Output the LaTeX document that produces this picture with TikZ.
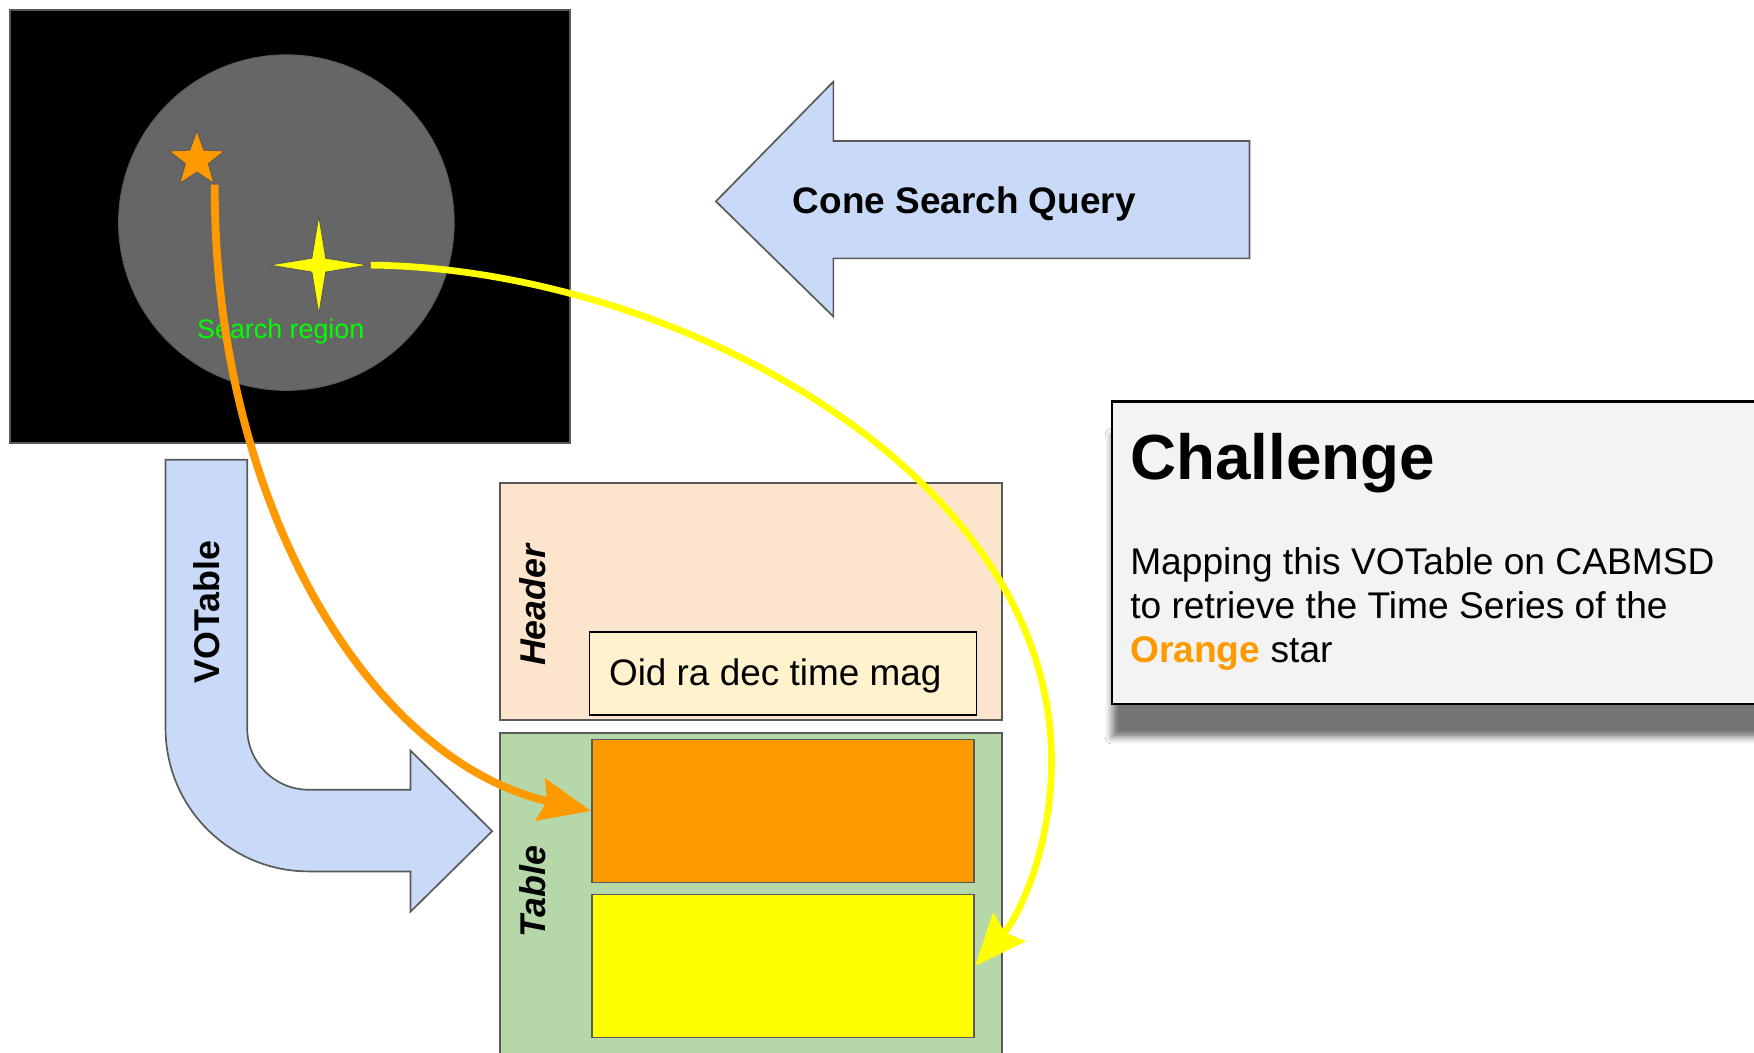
\documentclass[tikz,border=0pt]{standalone}
\usepackage{fontspec}
\setmainfont{Liberation Sans}
\usepackage{xcolor}
\usetikzlibrary{arrows.meta, positioning, shapes.geometric, shadows.blur}
\definecolor{edgegray}{HTML}{595959}
\definecolor{regiongray}{HTML}{666666}
\definecolor{regiongreen}{HTML}{00FF00}
\definecolor{votblue}{HTML}{C9DAF8}
\definecolor{hdrorange}{HTML}{FCE5CD}
\definecolor{fieldyellow}{HTML}{FFF2CC}
\definecolor{tblgreen}{HTML}{B6D7A8}
\definecolor{starorange}{HTML}{FF9900}
\definecolor{staryellow}{HTML}{FFFF00}
\definecolor{boxgray}{HTML}{F3F3F3}
\tikzset{
    box/.style={draw=edgegray, line width=0.75pt, inner sep=0pt}, % plain framed rectangle
    rowbox/.style={box, minimum width=171pt, minimum height=64pt}, % one row of the table
    bigarrow/.style={draw=edgegray, fill=votblue, line width=0.75pt}, % the two block arrows
    sidelabel/.style={rotate=90, font=\fontsize{16}{18}\selectfont\bfseries\itshape},
    link/.style={line width=#1, -{Stealth[length=23pt, width=19pt, inset=3pt]}}, % star -> row
}

\begin{document}
\begin{tikzpicture}[x=0.5pt, y=-0.5pt]
    \useasboundingbox (0,0) rectangle (1568,941);
    \clip (0,0) rectangle (1568,941);
    \fill[white] (0,0) rectangle (1568,941);

    % sky with the search region
    \node[box, fill=black, minimum width=250.5pt, minimum height=193.5pt, anchor=north west] (sky) at (8,8) {};
    \node[draw=edgegray, fill=regiongray, circle, minimum size=150pt, inner sep=0pt] (region) at (256,199) {};
    \node[text=regiongreen, font=\fontsize{12}{14}\selectfont] (regionlabel) at (251,296) {Search region};
    \node[star, star points=5, star point ratio=2.4, fill=starorange, draw=edgegray, minimum size=26pt, inner sep=0pt] (ostar) at (176,143) {};
    \node[star, star points=4, star point ratio=5, fill=staryellow, draw=edgegray, minimum size=44pt, inner sep=0pt] (ystar) at (285,237) {};

    % query arrow
    \draw[bigarrow] (640,180) -- (745,73) -- (745,126) -- (1117,126) -- (1117,231) -- (745,231) -- (745,283) -- cycle;
    \node[font=\fontsize{16.5}{18}\selectfont\bfseries] (conelabel) at (862,182) {Cone Search Query};

    % answer arrow
    \draw[bigarrow] (148,411) -- (221,411) -- (221,651) .. controls (221,681.4) and (245.6,706) .. (276,706)
        -- (367,706) -- (367,671) -- (440,743) -- (367,815) -- (367,779) -- (276,779)
        .. controls (205.3,779) and (148,721.7) .. (148,651) -- cycle;
    \node[rotate=90, font=\fontsize{16}{18}\selectfont\bfseries] (votlabel) at (185,547) {VOTable};

    % the VOTable
    \node[box, fill=hdrorange, minimum width=224.5pt, minimum height=106pt, anchor=north west] (header) at (446,431) {};
    \node[box, draw=black, fill=fieldyellow, minimum width=173pt, minimum height=37pt] (fields) at (700,602) {};
    \node[font=\fontsize{16.5}{18}\selectfont] (fieldnames) at (693,604) {Oid ra dec time mag};
    \node[sidelabel] (headerlabel) at (476,541) {Header};
    \node[box, fill=tblgreen, minimum width=224.5pt, minimum height=153.5pt, below=5pt of header.south west, anchor=north west] (table) {};
    \node[rowbox, fill=starorange] (orow) at (700,725) {};
    \node[rowbox, fill=staryellow, below=4.5pt of orow] (yrow) {};
    \node[sidelabel] (tablelabel) at (476,797) {Table};

    % challenge box
    \node[box, draw=black, line width=1pt, fill=boxgray, minimum width=303.5pt, minimum height=135pt, anchor=north west,
        blur shadow={shadow xshift=0pt, shadow yshift=-15pt, shadow opacity=55, shadow blur radius=3pt}] (challenge) at (993,358) {};
    \node[anchor=base west, inner sep=0pt, font=\fontsize{28.5}{32}\selectfont\bfseries] (chtitle) at (1010,429) {Challenge};
    \node[anchor=north west, inner sep=0pt, align=left, font=\fontsize{16.6}{19.75}\selectfont] (chbody) at (1010,489)
        {Mapping this VOTable on CABMSD\\to retrieve the Time Series of the\\\textcolor{starorange}{\textbf{Orange}} star};

    % stars -> rows
    \draw[link=3.5pt, starorange] (ostar.outer point 4) .. controls (191,450) and (330,680) .. (orow.west);
    \draw[link=3pt, staryellow] (ystar.east) .. controls (600,240) and (940,420) .. (940,680)
        .. controls (940,760) and (910,820) .. (yrow.east);
\end{tikzpicture}
\end{document}
